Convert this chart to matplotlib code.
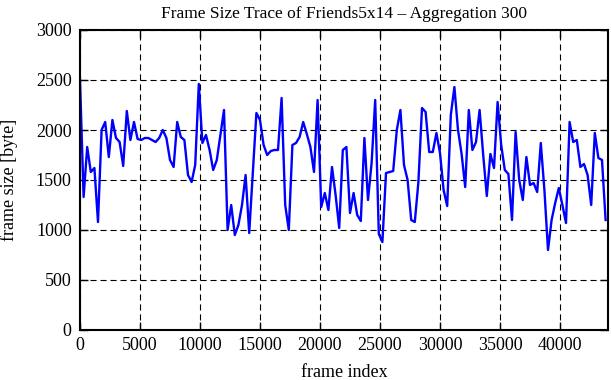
import matplotlib
matplotlib.use("Agg")
import matplotlib.pyplot as plt
import numpy as np

plt.rcParams["font.family"] = ["Liberation Serif", "DejaVu Serif"]

# frame size averaged over blocks of 300 frames
agg = 300
frame_size = [
    2500, 1330, 1830, 1580, 1620, 1080, 2000, 2080, 1730, 2100,
    1920, 1880, 1640, 2190, 1900, 2080, 1910, 1900, 1920, 1920,
    1900, 1880, 1920, 2000, 1920, 1700, 1630, 2080, 1930, 1900,
    1550, 1480, 1650, 2460, 1870, 1950, 1800, 1600, 1700, 1950,
    2200, 1000, 1250, 950, 1050, 1250, 1550, 970, 1570, 2170,
    2100, 1850, 1750, 1790, 1800, 1800, 2320, 1250, 1000, 1850,
    1870, 1930, 2080, 1960, 1830, 1580, 2300, 1230, 1370, 1200,
    1630, 1350, 1020, 1800, 1830, 1170, 1370, 1150, 1090, 1920,
    1300, 1670, 2300, 960, 880, 1570, 1580, 1590, 2000, 2200,
    1650, 1500, 1100, 1080, 1480, 2220, 2180, 1780, 1780, 1970,
    1770, 1400, 1240, 2150, 2430, 2000, 1760, 1430, 2200, 1800,
    1880, 2200, 1750, 1340, 1760, 1620, 2280, 1850, 1600, 1560,
    1100, 1980, 1500, 1300, 1730, 1450, 1470, 1380, 1870, 1400,
    800, 1100, 1270, 1420, 1250, 1070, 2080, 1880, 1900, 1630,
    1660, 1550, 1250, 1970, 1720, 1700, 1100,
]
frame_index = np.arange(len(frame_size)) * agg

x_ticks = [0, 5000, 10000, 15000, 20000, 25000, 30000, 35000, 40000]
y_ticks = [0, 500, 1000, 1500, 2000, 2500, 3000]

fig = plt.figure(figsize=(6.11, 3.80), dpi=100)
ax = fig.add_axes([80 / 611, 50 / 380, 528 / 611, 300 / 380])

ax.plot(frame_index, frame_size, color="#0000ff", lw=1.7)

ax.set_xlim(0, 44000)
ax.set_ylim(0, 3000)
ax.set_xticks(x_ticks)
ax.set_yticks(y_ticks)
ax.grid(True, color="black", linestyle=(0, (5.5, 3.5)), linewidth=0.8)
ax.tick_params(direction="in", top=True, right=True, length=6, width=1,
               labelsize=13)
ax.tick_params(axis="y", pad=6)
ax.tick_params(axis="x", pad=5)
for s in ax.spines.values():
    s.set_linewidth(1.5)

ax.set_title("Frame Size Trace of Friends5x14 \u2013 Aggregation 300", fontsize=12.5, pad=9)
ax.set_xlabel("frame index", fontsize=13)
ax.set_ylabel("frame size [byte]", fontsize=13)
ax.xaxis.set_label_coords(0.5, -0.112)
ax.yaxis.set_label_coords(-0.117, 0.5)

fig.savefig("out.png", dpi=100)
